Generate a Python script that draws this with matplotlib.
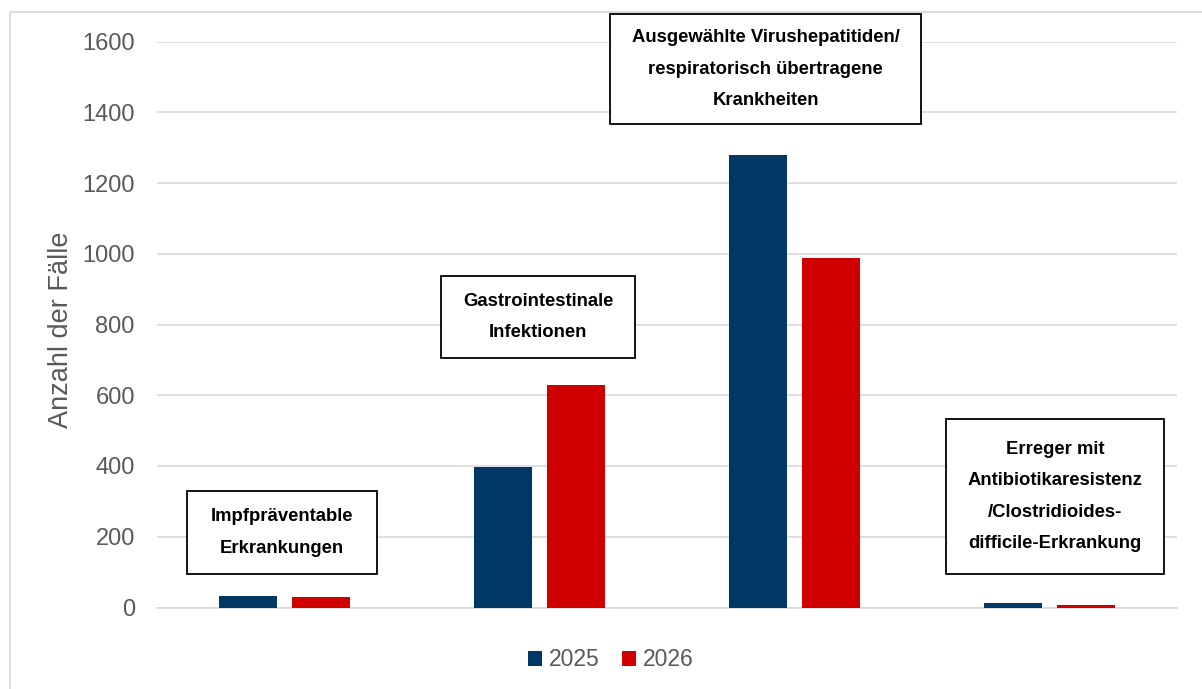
import matplotlib.pyplot as plt
from matplotlib.patches import Rectangle
import numpy as np

plt.rcParams['font.family'] = ['Liberation Sans', 'DejaVu Sans']

# data
categories = ["Impfpräventable\nErkrankungen",
              "Gastrointestinale\nInfektionen",
              "Ausgewählte Virushepatitiden/\nrespiratorisch übertragene\nKrankheiten",
              "Erreger mit\nAntibiotikaresistenz\n/Clostridioides-\ndifficile-Erkrankung"]
years = ["2025", "2026"]
cases_2025 = [32, 397, 1278, 14]
cases_2026 = [29, 628, 989, 6]
yticks = [0, 200, 400, 600, 800, 1000, 1200, 1400, 1600]

col_2025 = '#003865'
col_2026 = '#D00000'
grey = '#595959'

W, H = 1202, 689
fig = plt.figure(figsize=(W / 100, H / 100), dpi=100)
ax = fig.add_axes([157 / W, 1 - 607.5 / H, 1020 / W, 566 / H])

x = np.arange(len(categories))
bw = 0.224
off = 0.143
ax.bar(x - off, cases_2025, bw, color=col_2025, label=years[0], zorder=3)
ax.bar(x + off, cases_2026, bw, color=col_2026, label=years[1], zorder=3)

ax.set_xlim(-0.5, len(categories) - 0.5)
ax.set_ylim(0, 1600)
ax.set_yticks(yticks)
ax.set_yticklabels([str(v) for v in yticks], fontsize=17, color=grey)
ax.set_xticks([])
ax.tick_params(axis='y', length=0, pad=16)
ax.grid(axis='y', color='#d9d9d9', linewidth=1.2, zorder=0)
for s in ['left', 'right', 'top']:
    ax.spines[s].set_visible(False)
ax.spines['bottom'].set_color('#d9d9d9')
ax.spines['bottom'].set_linewidth(1.2)

fig.text(61 / W, 1 - 330 / H, "Anzahl der Fälle", rotation=90, fontsize=19.5,
         color=grey, ha='center', va='center')

# label boxes (pixel geometry: left, top, right, bottom)
boxes = [(187, 491, 377, 574), (441, 276, 635, 358),
         (610, 14, 921, 124), (946, 419, 1164, 574)]
for (l, t, r, b), txt in zip(boxes, categories):
    fig.patches.append(Rectangle((l / W, 1 - b / H), (r - l) / W, (b - t) / H,
                                 transform=fig.transFigure, facecolor='white',
                                 edgecolor='black', linewidth=1.3, zorder=5))
    fig.text((l + r) / 2 / W, 1 - (t + b) / 2 / H, txt, ha='center', va='center',
             fontsize=13.3, fontweight='bold', linespacing=2.1, zorder=6)

# outer chart border (left and top visible)
fig.patches.append(Rectangle((10 / W, -0.1), 1.2, 1.1 - 12 / H,
                             transform=fig.transFigure, fill=False,
                             edgecolor='#d9d9d9', linewidth=1.3))

leg = fig.legend(loc='center', bbox_to_anchor=(611 / W, 1 - 660 / H), ncol=2,
                 frameon=False, fontsize=16.5, handlelength=0.6, handleheight=0.6,
                 handletextpad=0.3, columnspacing=1.0)
for t in leg.get_texts():
    t.set_color(grey)

fig.savefig('out.png', dpi=100)
